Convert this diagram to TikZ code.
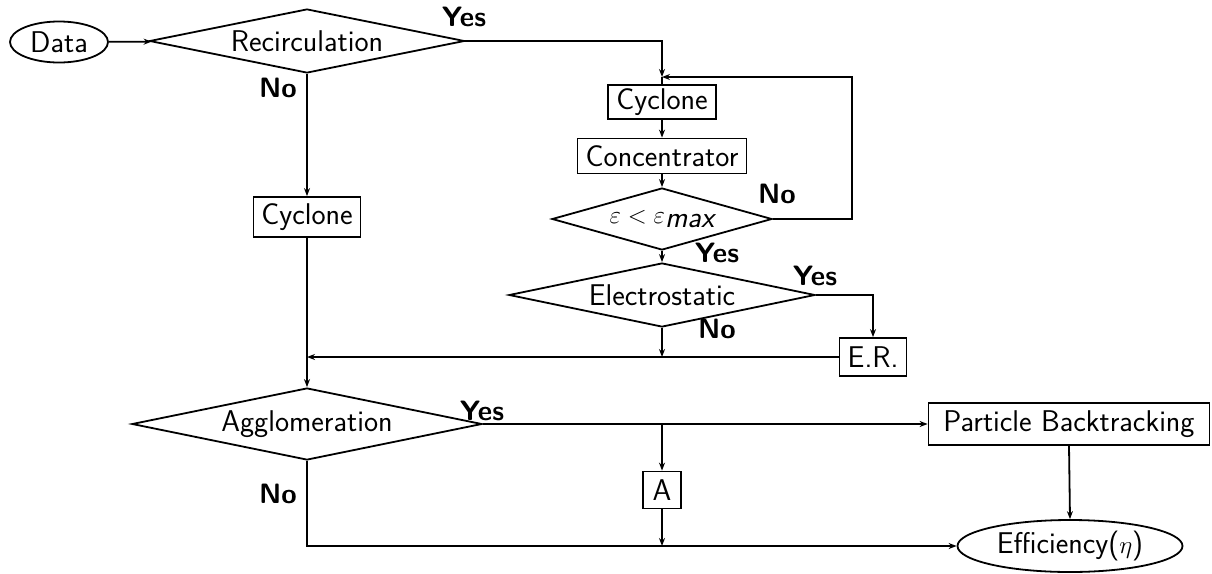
\documentclass[tikz,border=0pt]{standalone}
\usepackage{fontspec}
\usetikzlibrary{shapes.geometric,arrows.meta}
\newcommand\myfs{\sffamily\fontsize{30}{36}\selectfont}
\newcommand\myfsb{\sffamily\bfseries\fontsize{28}{34}\selectfont}
\tikzset{
  base/.style={draw, line width=1.8pt, font=\myfs, inner sep=0pt},
  box/.style={base, rectangle},
  dec/.style={base, diamond},
  term/.style={base, ellipse},
  lbl/.style={font=\myfsb, inner sep=0pt},
  arr/.style={line width=1.8pt, -{Stealth[length=8pt,width=6pt]}},
  ln/.style={line width=1.8pt}
}
\begin{document}
\begin{tikzpicture}[x=1pt,y=-1pt]
\useasboundingbox (0,0) rectangle (1212,573);
% nodes
\node[term, minimum width=98pt, minimum height=41pt] (data) at (59,42) {Data};
\node[dec, shape aspect=4.9, minimum width=315pt, minimum height=64pt] (rec) at (307,41) {Recirculation};
\node[box, minimum width=108pt, minimum height=34pt] (cyc2) at (662,102) {Cyclone};
\node[box, minimum width=169pt, minimum height=35pt] (conc) at (662,156) {Concentrator};
\node[dec, shape aspect=3.5, minimum width=220pt, minimum height=62pt] (eps) at (662,219) {$\varepsilon<\varepsilon_{\textsf{\itshape max}}$};
\node[dec, shape aspect=4.8, minimum width=306pt, minimum height=64pt] (elec) at (662,295) {Electrostatic};
\node[box, minimum width=67pt, minimum height=38pt] (er) at (873,357) {E.R.};
\node[box, minimum width=107pt, minimum height=40pt] (cyc1) at (307,217) {Cyclone};
\node[dec, shape aspect=4.9, minimum width=350pt, minimum height=72pt] (agg) at (307,424) {Agglomeration};
\node[box, minimum width=281pt, minimum height=42pt] (pb) at (1069,424) {Particle Backtracking};
\node[box, minimum width=38pt, minimum height=37pt] (a) at (662,490) {A};
\node[term, minimum width=225pt, minimum height=52pt] (eff) at (1070,546) {Efficiency($\eta$)};
% labels
\node[lbl] (lrecy) at (464,17) {Yes};
\node[lbl] (lrecn) at (278,88) {No};
\node[lbl] (lepsn) at (777,194) {No};
\node[lbl] (lepsy) at (717,253) {Yes};
\node[lbl] (lelecy) at (815,276) {Yes};
\node[lbl] (lelecn) at (717,329) {No};
\node[lbl] (laggy) at (482,411) {Yes};
\node[lbl] (laggn) at (278,494) {No};
% coordinates
\coordinate (j1) at (662,77);
\coordinate (fb) at (852,77);
\coordinate (bot) at (307,546);
% connectors
\draw[arr] (data) -- (rec);
\draw[arr] (rec.east) -| (j1);
\draw[arr] (eps.east) -| (fb) -- (j1);
\draw[ln] (j1) -- (cyc2.north);
\draw[arr] (cyc2) -- (conc);
\draw[arr] (conc) -- (eps);
\draw[arr] (eps) -- (elec);
\draw[arr] (elec.east) -| (er.north);
\draw[arr] (elec.south) -- (elec.south |- er.west);
\draw[arr] (er.west) -- (cyc1.south |- er.west);
\draw[arr] (rec.south) -- (cyc1.north);
\draw[arr] (cyc1.south) -- (agg.north);
\draw[arr] (agg.east) -- (pb.west);
\draw[arr] (a.north |- agg.east) -- (a.north);
\draw[arr] (agg.south) -- (bot) -- (eff.west);
\draw[arr] (a.south) -- (a.south |- eff.west);
\draw[arr] (pb.south) -- (eff.north);
\end{tikzpicture}
\end{document}
